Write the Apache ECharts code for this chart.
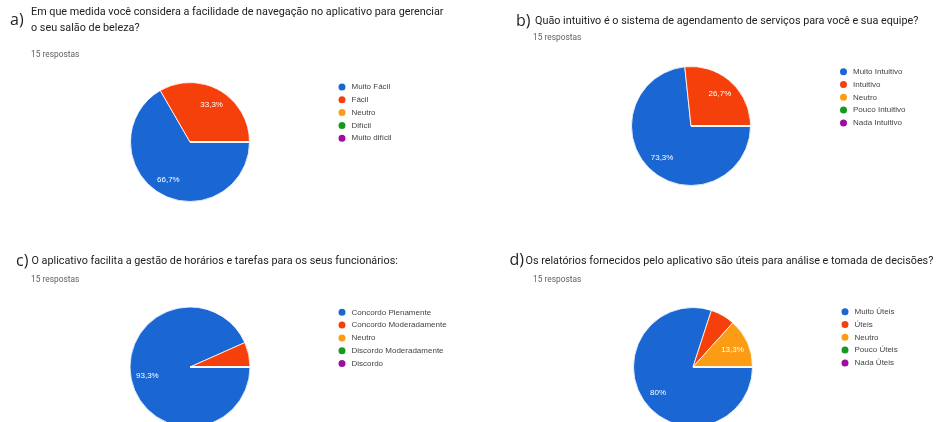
<!DOCTYPE html>
<html>
<head>
	<meta charset="utf-8">
	<title>Pesquisa</title>
	<script src="https://cdn.jsdelivr.net/npm/echarts@6/dist/echarts.min.js"></script>
	<style>
		html, body { margin: 0; padding: 0; background: #fff; }
	</style>
</head>
<body>
	<div id="echart" style="width: 944px; height: 422px"></div>
	<script>
		// categorias e respostas (15 respostas por pergunta)
		let catA = ['Muito Fácil', 'Fácil', 'Neutro', 'Difícil', 'Muito difícil'];
		let valA = [10, 5, 0, 0, 0];
		let catB = ['Muito Intuitivo', 'Intuitivo', 'Neutro', 'Pouco Intuitivo', 'Nada Intuitivo'];
		let valB = [11, 4, 0, 0, 0];
		let catC = ['Concordo Plenamente', 'Concordo Moderadamente', 'Neutro', 'Discordo Moderadamente', 'Discordo'];
		let valC = [14, 1, 0, 0, 0];
		let catD = ['Muito Úteis', 'Úteis', 'Neutro', 'Pouco Úteis', 'Nada Úteis'];
		let valD = [12, 1, 2, 0, 0];

		let letters = ['a)', 'b)', 'c)', 'd)'];
		let questions = [
			'Em que medida você considera a facilidade de navegação no aplicativo para gerenciar\no seu salão de beleza?',
			'Quão intuitivo é o sistema de agendamento de serviços para você e sua equipe?',
			'O aplicativo facilita a gestão de horários e tarefas para os seus funcionários:',
			'Os relatórios fornecidos pelo aplicativo são úteis para análise e tomada de decisões?'
		];
		let answersText = '15 respostas';

		let palette = ['#1a66d3', '#f5400b', '#fb9c14', '#159a1f', '#9c0ea0'];

		// posições (px) de cada bloco
		let blocks = [
			{ cats: catA, vals: valA, center: [190, 142], r: 59.5, letter: [10, 20], q: [31, 20], resp: [31, 55], legend: [336.5, 81.5] },
			{ cats: catB, vals: valB, center: [691, 126], r: 59.5, letter: [516, 21], q: [535, 21], resp: [533, 38], legend: [838, 66.2] },
			{ cats: catC, vals: valC, center: [190, 367], r: 60, letter: [16, 261], q: [31.5, 261.7], resp: [31, 279.7], legend: [336.5, 306.8] },
			{ cats: catD, vals: valD, center: [693, 367], r: 59.5, letter: [509.5, 260], q: [525.5, 261], resp: [533, 279.7], legend: [839.5, 306.2] }
		];

		let mychart = echarts.init(document.getElementById('echart'));
		let option = {
			animation: false,
			legend: [],
			series: [],
			graphic: []
		};

		blocks.forEach(function (b, index) {
			option.graphic.push({
				type: 'text', x: b.letter[0], y: b.letter[1],
				style: { text: letters[index], font: '16px "Open Sans"', fill: '#1f1f1f', verticalAlign: 'middle' }
			});
			option.graphic.push({
				type: 'text', x: b.q[0], y: b.q[1],
				style: { text: questions[index], font: '10.8px Roboto', fill: '#202124', lineHeight: 16, verticalAlign: 'middle' }
			});
			option.graphic.push({
				type: 'text', x: b.resp[0], y: b.resp[1],
				style: { text: answersText, font: '8.4px Roboto', fill: '#5f6368', verticalAlign: 'middle' }
			});

			option.legend.push({
				left: b.legend[0],
				top: b.legend[1],
				orient: 'vertical',
				icon: 'circle',
				itemWidth: 9,
				itemHeight: 9,
				itemGap: 1.8,
				itemTextGap: 2.5,
				padding: 0,
				selectedMode: false,
				textStyle: { fontFamily: 'Liberation Sans', fontSize: 8, color: '#444', lineHeight: 8 },
				data: b.cats
			});

			let cx = b.center[0], cy = b.center[1];
			option.series.push({
				type: 'pie',
				silent: true,
				center: b.center,
				radius: [0, b.r],
				startAngle: 0,
				clockwise: true,
				percentPrecision: 1,
				avoidLabelOverlap: false,
				itemStyle: { borderColor: '#fff', borderWidth: 0.8 },
				label: {
					show: true,
					position: 'inside',
					color: '#fff',
					fontFamily: 'Liberation Sans',
					fontSize: 8,
					formatter: function (p) {
						return p.percent < 10 ? '' : String(p.percent).replace('.', ',') + '%';
					}
				},
				labelLine: { show: false },
				// empurra o rótulo para ~2/3 do raio, como no Google Forms
				labelLayout: function (p) {
					let lx = p.labelRect.x + p.labelRect.width / 2;
					let ly = p.labelRect.y + p.labelRect.height / 2;
					return { dx: (lx - cx) * 0.32, dy: (ly - cy) * 0.32 };
				},
				data: b.cats.map(function (c, i) {
					return { name: c, value: b.vals[i], itemStyle: { color: palette[i] } };
				})
			});
		});

		mychart.setOption(option);
	</script>
</body>
</html>
